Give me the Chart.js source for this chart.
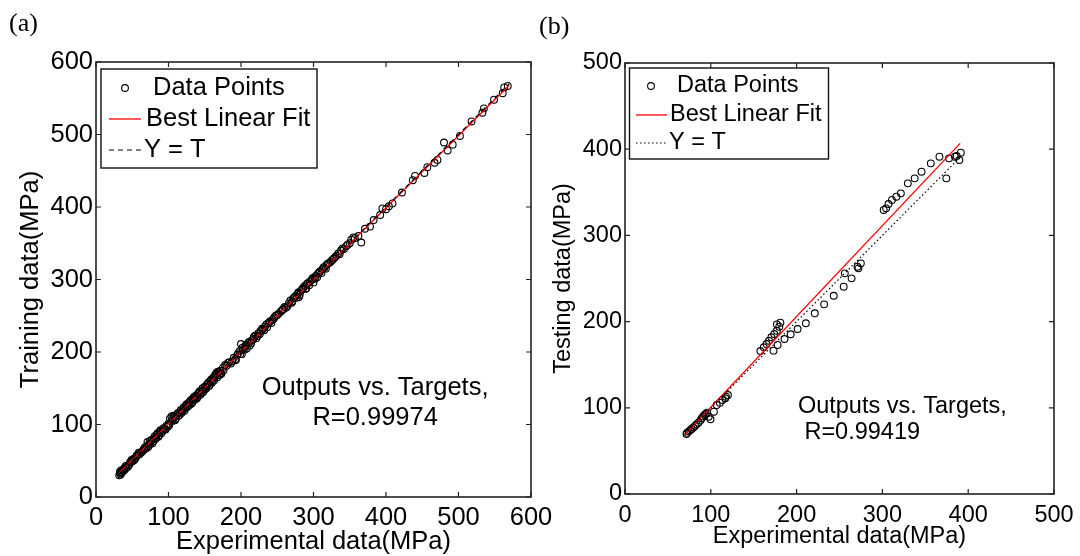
<!DOCTYPE html>
<html>
<head>
<meta charset="utf-8">
<script src="https://cdn.jsdelivr.net/npm/chart.js@4.4.0/dist/chart.umd.min.js"></script>
<style>
    body { margin: 0; background: #fff; }
    #wrap { position: relative; width: 1080px; height: 556px; overflow: hidden; }
    canvas { position: absolute; top: 0; }
    .panel-label { position: absolute; font-family: "Liberation Serif", "Times New Roman", serif; font-size: 26px; color: #000; }
</style>
</head>
<body>
<div id="wrap">
    <canvas id="trainChart" width="560" height="556" style="left:0"></canvas>
    <canvas id="testChart" width="540" height="556" style="left:540px"></canvas>
    <div class="panel-label" style="left:9px; top:8px">(a)</div>
    <div class="panel-label" style="left:539px; top:11px">(b)</div>
</div>
<script>
// Datos de entrenamiento (a): experimental vs. salida de la red
const trainExp = [32, 33, 34, 35, 36, 38, 40, 42, 45, 47, 50, 52, 55, 57, 60, 62, 65, 67, 70, 71,
    72, 74, 75, 77, 78, 80, 82, 84, 86, 88, 90, 92, 95, 97, 100, 102, 104, 106, 108, 110,
    112, 114, 116, 118, 120, 122, 124, 126, 128, 130, 132, 134, 136, 138, 140, 142, 144, 146, 148, 150,
    152, 154, 156, 158, 160, 162, 164, 166, 168, 170, 172, 175, 178, 182, 186, 190, 193, 196, 198, 200,
    201, 203, 206, 208, 210, 212, 215, 218, 221, 224, 227, 230, 233, 236, 240, 243, 246, 250, 255, 258,
    262, 266, 270, 272, 275, 278, 280, 282, 285, 288, 290, 292, 295, 298, 300, 303, 306, 309, 312, 315,
    318, 322, 326, 330, 334, 338, 342, 347, 352, 357, 362, 366, 371, 378, 383, 392, 395, 400, 404, 409,
    422, 437, 440, 453, 457, 467, 471, 480, 485, 492, 502, 518, 533, 535, 549, 561, 563, 568];
const trainOut = [30, 35, 31, 37, 34, 38, 41, 40, 44, 48, 49, 53, 54, 58, 59, 61, 64, 68, 70, 76,
    69, 77, 73, 79, 74, 81, 80, 86, 83, 90, 88, 91, 94, 98, 101, 108, 111, 105, 110, 108,
    114, 112, 117, 116, 121, 119, 126, 124, 130, 132, 129, 136, 134, 140, 138, 144, 141, 147, 145, 152,
    150, 156, 153, 160, 158, 165, 168, 171, 173, 168, 171, 178, 182, 185, 184, 192, 189, 198, 201, 211,
    197, 204, 208, 205, 212, 209, 216, 221, 219, 226, 229, 231, 235, 234, 242, 244, 248, 251, 256, 259,
    261, 267, 268, 274, 277, 280, 276, 284, 287, 291, 288, 295, 297, 300, 296, 305, 308, 311, 314, 316,
    320, 323, 327, 331, 336, 340, 342, 348, 355, 357, 360, 351, 370, 373, 382, 389, 398, 397, 401, 405,
    420, 437, 443, 447, 455, 461, 465, 489, 478, 486, 498, 518, 530, 536, 548, 557, 565, 567];
// segunda tanda de muestras (zona densa)
const trainExpB = [33, 35, 37, 39, 41, 44, 46, 49, 53, 56,
    59, 63, 66, 69, 73, 76, 79, 81, 83, 85,
    87, 89, 93, 96, 99, 101, 105, 107, 109, 113,
    115, 117, 119, 121, 123, 125, 127, 129, 131, 133,
    135, 137, 139, 141, 143, 145, 147, 149, 151, 153,
    155, 157, 159, 161, 163, 165, 167, 169, 171, 173,
    176, 180, 184, 188, 192, 195, 199, 202, 205, 207,
    211, 214, 217, 220, 223, 226, 229, 232, 235, 238,
    242, 245, 248, 252, 257, 260, 264, 268, 271, 274,
    277, 279, 281, 284, 286, 289, 291, 294, 297, 299,
    302, 305, 308, 311, 314, 317, 320, 324, 328, 332,
    336, 340, 345, 350, 355];
const trainOutB = [33, 33, 36, 37, 43, 42, 45, 51, 51, 57,
    61, 62, 66, 67, 72, 78, 77, 84, 82, 88,
    85, 92, 95, 93, 97, 99, 107, 112, 106, 116,
    113, 120, 118, 124, 122, 128, 126, 127, 134, 131,
    138, 137, 136, 143, 146, 143, 150, 148, 149, 155,
    158, 155, 162, 160, 161, 167, 165, 172, 174, 170,
    175, 181, 186, 187, 190, 196, 197, 206, 203, 210,
    214, 212, 218, 223, 222, 225, 232, 230, 238, 240,
    240, 246, 250, 253, 258, 262, 263, 271, 270, 276,
    275, 282, 279, 286, 289, 287, 294, 292, 299, 302,
    301, 303, 310, 309, 317, 315, 322, 325, 329, 333,
    335, 343, 346, 350, 358];
const trainFitX = [32, 570];
const trainFitY = [33, 568];
const trainIdX = [32, 570];
const trainIdY = [32, 570];
const trainTicks = [0, 100, 200, 300, 400, 500, 600];

// Datos de prueba (b)
const testExp = [71.6, 72.5, 74.4, 76, 77.5, 79.5, 81.6, 83.5, 85.6, 88, 89.5, 91, 92.8, 94, 95.6, 97.6, 99.7, 103.6, 106.9, 110.5,
    113.6, 116.9, 117.7, 120,
    157.8, 161.8, 165, 167.8, 170.6, 173.9, 177, 177, 179.8, 181.1,
    173.1, 177.9, 185.9, 193.1, 201.2, 210.8, 221.2, 232.1, 243.3, 254.9, 264.1, 256.2, 271, 274.9, 272.1,
    301.5, 304.3, 307.1, 311.1, 316.3, 321.5, 329.6, 337.6, 345.6, 356.4, 366.5, 374.5, 377.7, 384.6, 386.6, 389.7, 391.4];
const testOut = [69.6, 71, 72.7, 74, 75.4, 77, 78.9, 81, 82.7, 85.5, 87.8, 90, 91.6, 93, 94.3, 89.7, 86.7, 95.5, 103.2, 106,
    109, 111, 112.9, 114.8,
    165.9, 170.2, 174, 177.8, 181.8, 185.6, 189.4, 196.8, 194.1, 198.7,
    166.3, 172.9, 179.8, 185.3, 191.4, 198, 209.6, 220, 230, 240.5, 250.2, 256, 263.7, 267.6, 261.8,
    329.5, 331.4, 336.4, 341.1, 344.9, 348.8, 360.4, 366.2, 373.9, 383.6, 391.3, 366.2, 389.4, 391.3, 392.1, 387.5, 396];
const testFitX = [69.5, 390.6];
const testFitY = [68.4, 406.8];
const testIdX = [70, 391];
const testIdY = [70, 391];
const testTicks = [0, 100, 200, 300, 400, 500];

const FONT = '"Liberation Sans", Arial, Helvetica, sans-serif';

// Une dos arreglos en puntos {x, y}
function toPoints(xs, ys) {
    return xs.map((v, i) => ({ x: v, y: ys[i] }));
}

// Plugin: marco tipo MATLAB, marcas interiores, leyenda con recuadro y anotación
const marcoMatlab = {
    id: 'marcoMatlab',
    afterDatasetsDraw(chart, args, opts) {
        const { ctx, chartArea: a, scales: { x, y } } = chart;
        ctx.save();

        // marcas hacia dentro en los cuatro lados
        ctx.strokeStyle = '#222';
        ctx.lineWidth = 1.2;
        ctx.beginPath();
        x.ticks.forEach(t => {
            const px = x.getPixelForValue(t.value);
            ctx.moveTo(px, a.bottom); ctx.lineTo(px, a.bottom - 5);
            ctx.moveTo(px, a.top); ctx.lineTo(px, a.top + 5);
        });
        y.ticks.forEach(t => {
            const py = y.getPixelForValue(t.value);
            ctx.moveTo(a.left, py); ctx.lineTo(a.left + 5, py);
            ctx.moveTo(a.right, py); ctx.lineTo(a.right - 5, py);
        });
        ctx.stroke();

        // marco
        ctx.lineWidth = 1.6;
        ctx.strokeRect(a.left, a.top, a.right - a.left, a.bottom - a.top);

        // leyenda
        const lg = opts.legend;
        ctx.fillStyle = '#fff';
        ctx.fillRect(lg.x, lg.y, lg.w, lg.h);
        ctx.strokeStyle = '#111';
        ctx.lineWidth = 1.4;
        ctx.strokeRect(lg.x, lg.y, lg.w, lg.h);

        ctx.font = opts.fontSize + 'px ' + FONT;
        ctx.textBaseline = 'middle';
        ctx.textAlign = 'left';
        lg.rows.forEach(row => {
            const ds = chart.data.datasets[row.ds];
            ctx.strokeStyle = ds.borderColor;
            if (ds.showLine) {
                ctx.lineWidth = ds.borderWidth;
                ctx.setLineDash(ds.borderDash || []);
                ctx.beginPath();
                ctx.moveTo(lg.sample[0], row.y);
                ctx.lineTo(lg.sample[1], row.y);
                ctx.stroke();
                ctx.setLineDash([]);
            } else {
                ctx.lineWidth = ds.pointBorderWidth;
                ctx.beginPath();
                ctx.arc(lg.marker, row.y, ds.pointRadius, 0, Math.PI * 2);
                ctx.stroke();
            }
            ctx.fillStyle = '#000';
            ctx.fillText(ds.label, row.tx, row.y);
        });

        // anotación con el coeficiente R
        const an = opts.note;
        ctx.textAlign = an.align;
        an.lines.forEach((txt, i) => {
            ctx.fillText(txt, x.getPixelForValue(an.x), y.getPixelForValue(an.y[i]));
        });

        ctx.restore();
    }
};

// Crea un panel de dispersión
function makePanel(id, p) {
    const ctx = document.getElementById(id).getContext('2d');
    const tickFont = { family: FONT, size: p.fontSize };
    const titleFont = { family: FONT, size: p.fontSize, lineHeight: 1 };

    return new Chart(ctx, {
        type: 'scatter',
        data: {
            datasets: [
                {
                    label: 'Y = T',
                    data: toPoints(p.idX, p.idY),
                    showLine: true,
                    borderColor: '#000',
                    borderWidth: 1.2,
                    borderDash: p.idDash,
                    pointRadius: 0
                },
                {
                    label: 'Best Linear Fit',
                    data: toPoints(p.fitX, p.fitY),
                    showLine: true,
                    borderColor: '#ff0000',
                    borderWidth: 1.3,
                    pointRadius: 0
                },
                {
                    label: 'Data Points',
                    data: toPoints(p.xs, p.ys),
                    showLine: false,
                    pointStyle: 'circle',
                    pointRadius: 3.4,
                    pointBorderWidth: 1.1,
                    borderColor: '#000',
                    pointBorderColor: '#000',
                    pointBackgroundColor: 'rgba(0,0,0,0)'
                }
            ]
        },
        options: {
            responsive: false,
            animation: false,
            devicePixelRatio: 1,
            layout: { padding: p.padding },
            plugins: {
                legend: { display: false },
                tooltip: { enabled: false },
                marcoMatlab: { legend: p.legend, note: p.note, fontSize: p.fontSize }
            },
            scales: {
                x: {
                    type: 'linear',
                    min: p.ticks[0],
                    max: p.ticks[p.ticks.length - 1],
                    afterBuildTicks: s => { s.ticks = p.ticks.map(v => ({ value: v })); },
                    ticks: { font: tickFont, color: '#000', padding: p.xTickPad, maxRotation: 0 },
                    grid: { display: false, drawTicks: false },
                    border: { display: false },
                    title: { display: true, text: 'Experimental data(MPa)', font: titleFont, color: '#000', padding: { top: 0, bottom: p.xTitlePad } },
                    afterFit: s => { s.height = p.xAxisH; s.paddingLeft = 0; s.paddingRight = 0; }
                },
                y: {
                    type: 'linear',
                    min: p.ticks[0],
                    max: p.ticks[p.ticks.length - 1],
                    afterBuildTicks: s => { s.ticks = p.ticks.map(v => ({ value: v })); },
                    ticks: { font: tickFont, color: '#000', padding: 3 },
                    grid: { display: false, drawTicks: false },
                    border: { display: false },
                    title: { display: true, text: p.yTitle, font: titleFont, color: '#000', padding: { top: p.yTitlePad, bottom: 0 } },
                    afterFit: s => { s.width = p.yAxisW; s.paddingTop = 0; s.paddingBottom = 0; }
                }
            }
        },
        plugins: [marcoMatlab]
    });
}

makePanel('trainChart', {
    xs: trainExp.concat(trainExpB), ys: trainOut.concat(trainOutB),
    fitX: trainFitX, fitY: trainFitY, idX: trainIdX, idY: trainIdY,
    ticks: trainTicks, idDash: [5, 4], fontSize: 25.5,
    yTitle: 'Training data(MPa)',
    padding: { left: 0, top: 62, right: 29, bottom: 0 },
    yAxisW: 96, xAxisH: 59, xTickPad: 6, xTitlePad: 1, yTitlePad: 18,
    legend: {
        x: 101, y: 69, w: 216, h: 99, sample: [109, 141], marker: 125,
        rows: [{ ds: 2, y: 88, tx: 153 }, { ds: 1, y: 119, tx: 146 }, { ds: 0, y: 150, tx: 144 }]
    },
    note: { align: 'center', x: 385, y: [150, 109], lines: ['Outputs vs. Targets,', 'R=0.99974'] }
});

makePanel('testChart', {
    xs: testExp, ys: testOut, fitX: testFitX, fitY: testFitY, idX: testIdX, idY: testIdY,
    ticks: testTicks, idDash: [1.5, 2.5], fontSize: 23.5,
    yTitle: 'Testing data(MPa)',
    padding: { left: 0, top: 63, right: 26, bottom: 0 },
    yAxisW: 85, xAxisH: 62, xTickPad: 7, xTitlePad: 8, yTitlePad: 12,
    legend: {
        x: 89.5, y: 68, w: 199, h: 91, sample: [96, 127], marker: 111,
        rows: [{ ds: 2, y: 86, tx: 137 }, { ds: 1, y: 115, tx: 130 }, { ds: 0, y: 143, tx: 129 }]
    },
    note: { align: 'left', x: 201.5, y: [101, 71], lines: ['Outputs vs. Targets,', ' R=0.99419'] }
});
</script>
</body>
</html>
